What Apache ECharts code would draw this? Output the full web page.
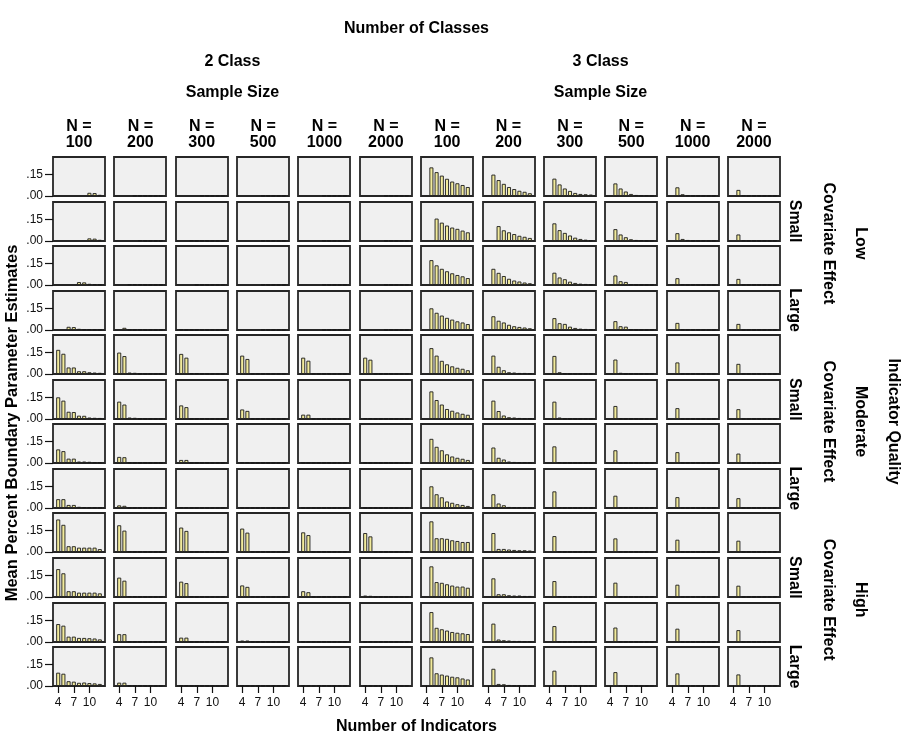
<!DOCTYPE html>
<html><head><meta charset="utf-8">
<script src="https://cdn.jsdelivr.net/npm/echarts@6/dist/echarts.min.js"></script>
<style>html,body{margin:0;padding:0;background:#fff}#c{width:916px;height:736px}</style>
</head><body><div id="c"></div>
<script>
const indicators = [4,5,6,7,8,9,10,11,12];
const classLabels = ['2 Class','3 Class'];
const sampleSizes = ['100','200','300','500','1000','2000'];
const qualityLabels = ['Low','Moderate','High'];
const effectLabels = ['Small','Large'];
const yTickValues = [0, 0.15];
const xTickValues = [4, 7, 10];
const yMax = 0.27;

// Each array: 12 rows (Low S,S,L,L, Moderate S,S,L,L, High S,S,L,L) x 9 indicators (4..12)
const c2_n100 = [
 [null,null,null,null,null,null,0.022,0.020,0.008],
 [null,null,null,null,null,null,0.018,0.016,0.008],
 [null,null,null,null,0.020,0.018,0.008,0.006,0.004],
 [null,null,0.022,0.020,0.008,0.005,0.004,0.003,0.002],
 [0.167,0.140,0.045,0.045,0.019,0.019,0.012,0.010,0.008],
 [0.150,0.127,0.050,0.048,0.023,0.022,0.010,0.008,0.007],
 [0.094,0.082,0.030,0.030,0.010,0.010,0.008,0.005,0.004],
 [0.061,0.061,0.021,0.021,0.008,0.006,0.005,0.004,0.003],
 [0.225,0.188,0.040,0.040,0.030,0.030,0.030,0.030,0.020],
 [0.193,0.164,0.040,0.040,0.030,0.030,0.030,0.030,0.025],
 [0.124,0.113,0.037,0.037,0.028,0.028,0.026,0.024,0.018],
 [0.092,0.085,0.033,0.030,0.022,0.024,0.020,0.018,0.014]
];
const c2_n200 = [
 [null,null,null,0.002,0.002,0.002,0.002,0.002,0.002],
 [null,null,null,null,0.005,0.002,0.002,0.002,0.002],
 [null,null,0.004,0.004,0.003,0.002,0.002,0.002,0.002],
 [null,0.015,0.002,0.002,0.002,0.002,0.002,0.002,0.002],
 [0.148,0.124,0.010,0.008,0.002,0.002,0.002,0.002,0.002],
 [0.120,0.100,0.010,0.008,0.002,0.002,0.002,0.002,0.002],
 [0.042,0.040,0.003,0.002,0.002,0.002,0.002,0.002,0.002],
 [0.018,0.015,0.002,0.002,0.002,0.002,0.002,0.002,0.002],
 [0.185,0.148,0.004,0.002,0.002,0.002,0.002,0.002,0.002],
 [0.134,0.113,0.005,0.004,0.002,0.002,0.002,0.002,0.002],
 [0.054,0.054,0.002,0.002,0.002,0.002,0.002,0.002,0.002],
 [0.023,0.023,0.002,0.002,0.002,0.002,0.002,0.002,0.002]
];
const c2_n300 = [
 [null,null,null,null,0.002,0.002,0.002,0.002,0.002],
 [null,null,0.003,0.002,0.002,0.002,0.002,0.002,0.002],
 [null,null,null,0.002,0.002,0.002,0.002,0.002,0.002],
 [0.004,0.002,0.002,0.002,0.002,0.002,0.002,0.002,0.002],
 [0.139,0.113,0.006,0.004,0.002,0.002,0.002,0.002,0.002],
 [0.094,0.082,0.002,0.002,0.002,0.002,0.002,0.002,0.002],
 [0.021,0.021,0.002,0.002,0.002,0.002,0.002,0.002,0.002],
 [0.005,0.004,0.002,0.002,0.002,0.002,0.002,0.002,0.002],
 [0.169,0.146,0.002,0.002,0.002,0.002,0.002,0.002,0.002],
 [0.106,0.096,0.003,0.002,0.002,0.002,0.002,0.002,0.002],
 [0.030,0.030,0.002,0.002,0.002,0.002,0.002,0.002,0.002],
 [0.005,0.004,0.002,0.002,0.002,0.002,0.002,0.002,0.002]
];
const c2_n500 = [
 [null,null,null,null,0.002,0.002,0.002,0.002,0.002],
 [null,null,null,null,0.002,0.002,0.002,0.002,0.002],
 [null,null,null,null,0.002,0.002,0.002,0.002,0.002],
 [null,null,null,null,0.002,0.002,0.002,0.002,0.002],
 [0.127,0.104,0.002,0.002,0.002,0.002,0.002,0.002,0.002],
 [0.066,0.056,0.002,0.002,0.002,0.002,0.002,0.002,0.002],
 [0.004,0.004,0.002,0.002,0.002,0.002,0.002,0.002,0.002],
 [0.002,0.002,0.002,0.002,0.002,0.002,0.002,0.002,0.002],
 [0.162,0.134,0.002,0.002,0.002,0.002,0.002,0.002,0.002],
 [0.080,0.070,0.002,0.002,0.002,0.002,0.002,0.002,0.002],
 [0.010,0.010,0.002,0.002,0.002,0.002,0.002,0.002,0.002],
 [0.002,0.002,0.002,0.002,0.002,0.002,0.002,0.002,0.002]
];
const c2_n1000 = [
 [null,null,null,null,0.002,0.002,0.002,0.002,0.002],
 [null,null,null,null,0.002,0.002,0.002,0.002,0.002],
 [null,null,null,null,0.002,0.002,0.002,0.002,0.002],
 [null,null,null,null,0.002,0.002,0.002,0.002,0.002],
 [0.113,0.092,0.002,0.002,0.002,0.002,0.002,0.002,0.002],
 [0.030,0.030,0.002,0.002,0.002,0.002,0.002,0.002,0.002],
 [0.002,0.002,0.002,0.002,0.002,0.002,0.002,0.002,0.002],
 [0.002,0.002,0.002,0.002,0.002,0.002,0.002,0.002,0.002],
 [0.136,0.117,0.002,0.002,0.002,0.002,0.002,0.002,0.002],
 [0.040,0.033,0.002,0.002,0.002,0.002,0.002,0.002,0.002],
 [0.002,0.002,0.002,0.002,0.002,0.002,0.002,0.002,0.002],
 [0.002,0.002,0.002,0.002,0.002,0.002,0.002,0.002,0.002]
];
const c2_n2000 = [
 [null,null,null,null,0.002,0.002,0.002,0.002,0.002],
 [null,null,null,null,0.002,0.002,0.002,0.002,0.002],
 [null,null,null,null,0.002,0.002,0.002,0.002,0.002],
 [null,null,null,null,0.002,0.002,0.002,0.002,0.002],
 [0.113,0.099,0.002,0.002,0.002,0.002,0.002,0.002,0.002],
 [0.005,0.004,0.002,0.002,0.002,0.002,0.002,0.002,0.002],
 [0.002,0.002,0.002,0.002,0.002,0.002,0.002,0.002,0.002],
 [0.002,0.002,0.002,0.002,0.002,0.002,0.002,0.002,0.002],
 [0.131,0.108,0.002,0.002,0.002,0.002,0.002,0.002,0.002],
 [0.010,0.008,0.002,0.002,0.002,0.002,0.002,0.002,0.002],
 [0.002,0.002,0.002,0.002,0.002,0.002,0.002,0.002,0.002],
 [0.002,0.002,0.002,0.002,0.002,0.002,0.002,0.002,0.002]
];
const c3_n100 = [
 [null,0.198,0.165,0.141,0.119,0.100,0.088,0.076,0.062],
 [null,null,0.155,0.127,0.107,0.093,0.084,0.072,0.060],
 [null,0.172,0.136,0.112,0.095,0.081,0.069,0.060,0.048],
 [null,0.150,0.119,0.100,0.084,0.072,0.060,0.052,0.041],
 [null,0.179,0.127,0.091,0.067,0.053,0.043,0.036,0.026],
 [null,0.191,0.131,0.100,0.069,0.057,0.045,0.036,0.029],
 [null,0.167,0.112,0.088,0.060,0.045,0.036,0.029,0.021],
 [null,0.150,0.095,0.074,0.045,0.036,0.026,0.021,0.014],
 [null,0.212,0.095,0.095,0.091,0.081,0.076,0.069,0.069],
 [null,0.212,0.103,0.098,0.088,0.079,0.072,0.072,0.064],
 [null,0.207,0.098,0.088,0.079,0.069,0.064,0.060,0.055],
 [null,0.198,0.088,0.079,0.072,0.064,0.060,0.052,0.045]
];
const c3_n200 = [
 [null,0.148,0.110,0.084,0.062,0.048,0.036,0.029,0.019],
 [null,null,0.103,0.074,0.060,0.048,0.036,0.029,0.021],
 [null,0.112,0.084,0.062,0.043,0.031,0.024,0.017,0.012],
 [null,0.095,0.064,0.052,0.036,0.026,0.021,0.017,0.012],
 [null,0.127,0.050,0.026,0.012,0.010,0.007,0.007,0.005],
 [null,0.127,0.055,0.024,0.012,0.010,0.007,0.005,0.005],
 [null,0.107,0.036,0.024,0.010,0.007,0.005,0.005,0.003],
 [null,0.095,0.031,0.019,0.007,0.005,0.005,0.003,0.003],
 [null,0.131,0.021,0.021,0.017,0.014,0.012,0.012,0.010],
 [null,0.129,0.019,0.019,0.012,0.010,0.010,0.007,0.007],
 [null,0.127,0.017,0.012,0.010,0.007,0.007,0.005,0.005],
 [null,0.119,0.014,0.012,0.007,0.005,0.005,0.003,0.003]
];
const c3_n300 = [
 [null,0.120,0.080,0.052,0.035,0.021,0.014,0.012,0.010],
 [null,0.122,0.075,0.056,0.038,0.023,0.014,0.009,0.005],
 [null,0.085,0.052,0.040,0.023,0.014,0.009,0.007,0.005],
 [null,0.082,0.047,0.042,0.023,0.014,0.009,0.007,0.005],
 [null,0.125,0.012,0.004,0.002,0.002,0.002,0.002,0.002],
 [null,0.120,0.010,0.003,0.002,0.002,0.002,0.002,0.002],
 [null,0.115,0.005,0.002,0.002,0.002,0.002,0.002,0.002],
 [null,0.115,0.004,0.002,0.002,0.002,0.002,0.002,0.002],
 [null,0.110,0.003,0.002,0.002,0.002,0.002,0.002,0.002],
 [null,0.110,0.004,0.002,0.002,0.002,0.002,0.002,0.002],
 [null,0.110,0.002,0.002,0.002,0.002,0.002,0.002,0.002],
 [null,0.106,0.002,0.002,0.002,0.002,0.002,0.002,0.002]
];
const c3_n500 = [
 [null,0.087,0.052,0.031,0.014,0.007,0.005,0.005,0.002],
 [null,0.082,0.045,0.026,0.012,0.007,0.005,0.002,0.002],
 [null,0.066,0.026,0.021,0.005,0.002,0.002,0.002,0.002],
 [null,0.061,0.026,0.023,0.004,0.002,0.002,0.002,0.002],
 [null,0.100,0.008,0.002,0.002,0.002,0.002,0.002,0.002],
 [null,0.090,0.003,0.002,0.002,0.002,0.002,0.002,0.002],
 [null,0.088,0.002,0.002,0.002,0.002,0.002,0.002,0.002],
 [null,0.085,0.002,0.002,0.002,0.002,0.002,0.002,0.002],
 [null,0.094,0.002,0.002,0.002,0.002,0.002,0.002,0.002],
 [null,0.099,0.002,0.002,0.002,0.002,0.002,0.002,0.002],
 [null,0.100,0.002,0.002,0.002,0.002,0.002,0.002,0.002],
 [null,0.096,0.002,0.002,0.002,0.002,0.002,0.002,0.002]
];
const c3_n1000 = [
 [null,0.060,0.012,0.004,0.002,0.002,0.002,0.002,0.002],
 [null,0.054,0.014,0.007,0.002,0.002,0.002,0.002,0.002],
 [null,0.047,0.004,0.002,0.002,0.002,0.002,0.002,0.002],
 [null,0.049,0.003,0.002,0.002,0.002,0.002,0.002,0.002],
 [null,0.080,0.002,0.002,0.002,0.002,0.002,0.002,0.002],
 [null,0.075,0.002,0.002,0.002,0.002,0.002,0.002,0.002],
 [null,0.075,0.002,0.002,0.002,0.002,0.002,0.002,0.002],
 [null,0.075,0.002,0.002,0.002,0.002,0.002,0.002,0.002],
 [null,0.085,0.002,0.002,0.002,0.002,0.002,0.002,0.002],
 [null,0.085,0.002,0.002,0.002,0.002,0.002,0.002,0.002],
 [null,0.092,0.002,0.002,0.002,0.002,0.002,0.002,0.002],
 [null,0.087,0.002,0.002,0.002,0.002,0.002,0.002,0.002]
];
const c3_n2000 = [
 [null,0.042,0.004,0.002,0.002,0.002,0.002,0.002,0.002],
 [null,0.045,0.003,0.002,0.002,0.002,0.002,0.002,0.002],
 [null,0.042,0.002,0.002,0.002,0.002,0.002,0.002,0.002],
 [null,0.042,0.002,0.002,0.002,0.002,0.002,0.002,0.002],
 [null,0.070,0.002,0.002,0.002,0.002,0.002,0.002,0.002],
 [null,0.068,0.002,0.002,0.002,0.002,0.002,0.002,0.002],
 [null,0.065,0.002,0.002,0.002,0.002,0.002,0.002,0.002],
 [null,0.068,0.002,0.002,0.002,0.002,0.002,0.002,0.002],
 [null,0.078,0.002,0.002,0.002,0.002,0.002,0.002,0.002],
 [null,0.078,0.002,0.002,0.002,0.002,0.002,0.002,0.002],
 [null,0.082,0.002,0.002,0.002,0.002,0.002,0.002,0.002],
 [null,0.080,0.002,0.002,0.002,0.002,0.002,0.002,0.002]
];
const columns = [c2_n100,c2_n200,c2_n300,c2_n500,c2_n1000,c2_n2000,
                 c3_n100,c3_n200,c3_n300,c3_n500,c3_n1000,c3_n2000];

const FF = "'Liberation Sans', Arial, sans-serif";
const PL = 53, PT = 157, PW = 52, PH = 39, DX = 61.36, DY = 44.55;
const NR = 12, NC = 12;

const option = {animation:false, backgroundColor:'#fff', grid:[], xAxis:[], yAxis:[], series:[], graphic:[]};

for (let c = 0; c < NC; c++) {
  for (let r = 0; r < NR; r++) {
    const gi = option.grid.length;
    const left = Math.round(PL + c*DX), top = Math.round(PT + r*DY);
    option.grid.push({left:left, top:top, width:PW, height:PH, show:true,
      backgroundColor:'#f0f0f0', borderColor:'#262626', borderWidth:1.8});
    const bottomRow = (r === NR-1), firstCol = (c === 0);
    option.xAxis.push({type:'value', gridIndex:gi, min:3, max:13,
      show: bottomRow,
      axisLine:{show:false}, splitLine:{show:false},
      axisTick:{show:bottomRow, customValues:xTickValues, length:7, lineStyle:{color:'#111', width:1.2}},
      axisLabel:{show:bottomRow, customValues:xTickValues, fontSize:12, color:'#111', fontFamily:FF, margin:11}});
    option.yAxis.push({type:'value', gridIndex:gi, min:0, max:yMax,
      show: firstCol,
      axisLine:{show:false}, splitLine:{show:false},
      axisTick:{show:firstCol, customValues:yTickValues, length:8, lineStyle:{color:'#111', width:1.2}},
      axisLabel:{show:firstCol, customValues:yTickValues, fontSize:12, color:'#111', fontFamily:FF, margin:10,
        formatter: v => v.toFixed(2).replace(/^0/, '')}});
    const vals = columns[c][r];
    const data = [];
    indicators.forEach((x, i) => { if (vals[i] !== null) data.push([x, vals[i]]); });
    option.series.push({type:'bar', xAxisIndex:gi, yAxisIndex:gi, data:data, barWidth:4,
      itemStyle:{color:'#f2eb9c', borderColor:'#1a1a1a', borderWidth:0.9}, silent:true});
  }
}

function txt(text, x, y, rot, size, weight) {
  option.graphic.push({type:'text', x:x, y:y, rotation:rot||0, silent:true,
    style:{text:text, x:0, y:0, fill:'#000', align:'center', verticalAlign:'middle',
      textAlign:'center', textVerticalAlign:'middle',
      font:(weight||'bold')+' '+(size||16)+'px '+FF}});
}
const colCenter = c => PL + c*DX + PW/2;
const rowCenter = r => PT + r*DY + PH/2;

txt('Number of Classes', (colCenter(0)+colCenter(11))/2, 29);
for (let k = 0; k < 2; k++) {
  const cx = (colCenter(k*6) + colCenter(k*6+5))/2;
  txt(classLabels[k], cx, 62);
  txt('Sample Size', cx, 93);
  for (let j = 0; j < 6; j++) {
    txt('N =', colCenter(k*6+j), 127);
    txt(sampleSizes[j], colCenter(k*6+j), 143);
  }
}
txt('Mean Percent Boundary Parameter Estimates', 12, 423, Math.PI/2, 16.5);
txt('Number of Indicators', (colCenter(0)+colCenter(11))/2, 727);
for (let q = 0; q < 3; q++) {
  for (let e = 0; e < 2; e++) {
    txt(effectLabels[e], 794, rowCenter(q*4 + e*2 + 1), -Math.PI/2);
  }
  const gc = (PT + q*4*DY + PT + (q*4+3)*DY + PH)/2;
  txt('Covariate Effect', 828, gc, -Math.PI/2);
  txt(qualityLabels[q], 860, gc, -Math.PI/2);
}
txt('Indicator Quality', 893, (PT + PT + 11*DY + PH)/2, -Math.PI/2);

const chart = echarts.init(document.getElementById('c'), null, {renderer:'canvas'});
chart.setOption(option);
</script></body></html>
